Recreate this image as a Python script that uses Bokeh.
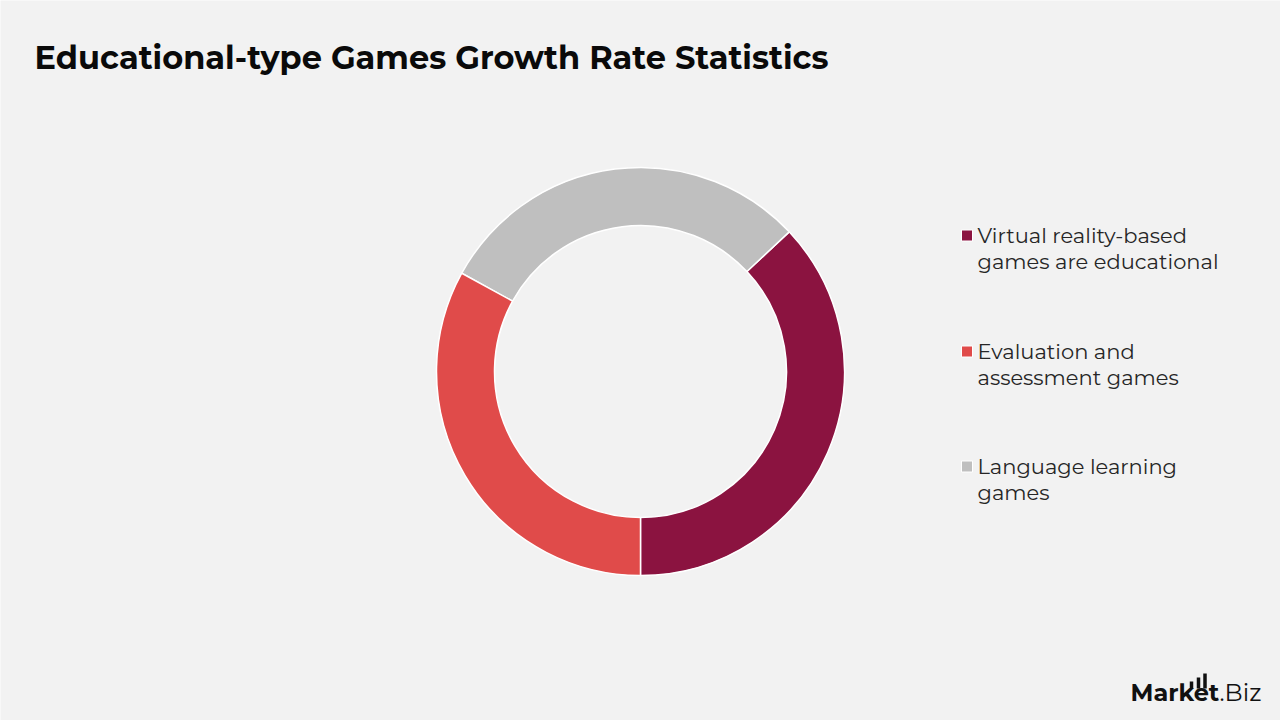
import math
import textwrap

from bokeh.core.properties import value
from bokeh.embed import file_html
from bokeh.models import ColumnDataSource, Range1d
from bokeh.plotting import figure
from bokeh.resources import INLINE

# Share of each educational game type (percent)
categories = [
    "Virtual reality-based games are educational",
    "Evaluation and assessment games",
    "Language learning games",
]
shares = [37, 33, 30]
colors = ["#8B1340", "#E04B4A", "#BFBFBF"]

# Ring is drawn counterclockwise from 6 o'clock in this slice order
ring_order = [0, 2, 1]

W, H = 1280, 720
BG = "#F2F2F2"
FONT = "Montserrat, Inter, sans-serif"

p = figure(width=W, height=H, output_backend="svg", toolbar_location=None,
           x_range=Range1d(0, W), y_range=Range1d(0, H), min_border=0)
p.axis.visible = False
p.grid.visible = False
p.outline_line_color = None
p.background_fill_color = BG
p.border_fill_color = BG

# Donut
cx, cy = 640, H - 371
total = sum(shares)
start = -math.pi / 2
starts, ends, fills = [], [], []
for i in ring_order:
    span = 2 * math.pi * shares[i] / total
    starts.append(start)
    ends.append(start + span)
    fills.append(colors[i])
    start += span
ring = ColumnDataSource(dict(x=[cx] * 3, y=[cy] * 3, start=starts, end=ends, color=fills))
p.annular_wedge(x="x", y="y", inner_radius=146, outer_radius=204,
                start_angle="start", end_angle="end", source=ring,
                fill_color="color", line_color="white", line_width=1.5)

# Title
p.text(x=[34], y=[H - 57], text=["Educational-type Games Growth Rate Statistics"],
       text_font=value(FONT), text_font_style="bold", text_font_size="32px",
       text_color="#0A0A0A", text_baseline="middle")

# Legend
leg_y = [H - 235, H - 351, H - 466]
p.rect(x=[966.5] * 3, y=leg_y, width=11, height=11, fill_color=colors,
       line_color="white", line_width=1)
lx, ly, lt = [], [], []
for name, y in zip(categories, leg_y):
    for k, line in enumerate(textwrap.wrap(name, 22)):
        lx.append(977)
        ly.append(y - 25.5 * k)
        lt.append(line)
p.text(x=lx, y=ly, text=lt, text_font=value(FONT), text_font_size="21px",
       text_color="#262626", text_baseline="middle")

# Brand mark
p.text(x=[1130], y=[H - 692], text=["Market"], text_font=value(FONT),
       text_font_style="bold", text_font_size="24px", text_color="#111111",
       text_baseline="middle")
p.text(x=[1219], y=[H - 692], text=[".Biz"], text_font=value(FONT),
       text_font_size="24px", text_color="#111111", text_baseline="middle")
bar_x = [1191, 1198, 1204.5]
bar_h = [7, 11, 15]
p.vbar(x=bar_x, bottom=[H - 688] * 3, top=[H - 688 + h for h in bar_h], width=3.5,
       fill_color="#111111", line_color=None)

open("out.html", "w").write(file_html(p, INLINE))
